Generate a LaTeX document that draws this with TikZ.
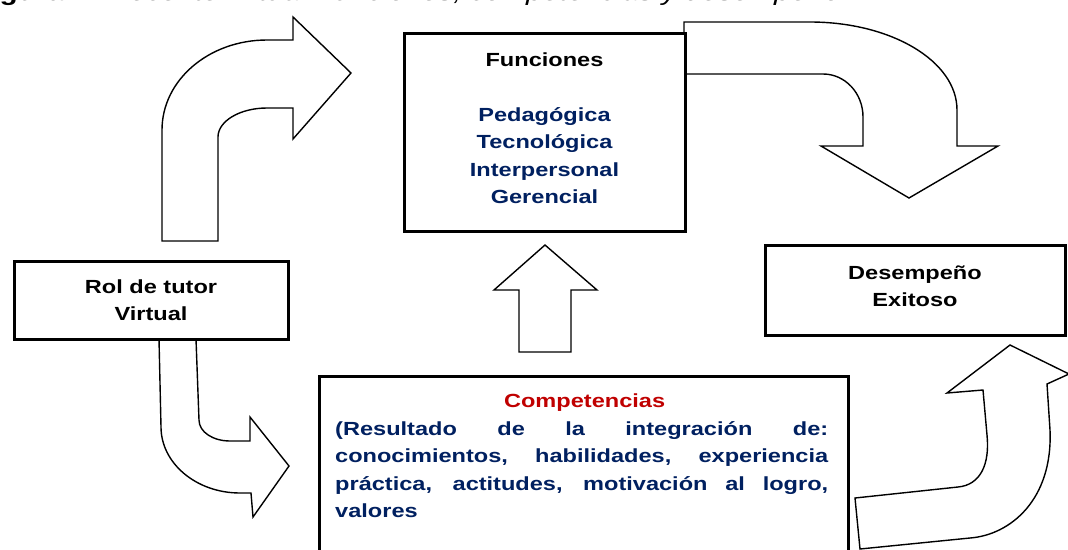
\documentclass[tikz,border=0pt]{standalone}
\usepackage{fontspec}
\setmainfont{Liberation Sans}[FakeStretch=1.24]
\definecolor{azul}{HTML}{002060}
\definecolor{rojo}{HTML}{C00000}

\begin{document}
\begin{tikzpicture}[x=1pt,y=-1pt,
    caja/.style={draw=black, line width=3pt, fill=white, align=center, inner sep=0pt},
    flecha/.style={draw=black, line width=1.4pt, fill=white, line join=miter},
    letra/.style={font=\fontsize{19}{27.5}\selectfont\bfseries}]

    \useasboundingbox (0,0) rectangle (1068,549);

    % titulo (cortado arriba)
    \node[anchor=base west, inner sep=0pt, font=\fontsize{24}{28}\selectfont] (fig) at (-27,0.8) {\textbf{Figura 1.} \textit{Docente virtual: funciones, competencias y desempeño}};

    % flechas
    \draw[flecha] (162,241) -- (162,130) .. controls (162,80) and (209,40) .. (267,40)
        -- (293,40) -- (293,17) -- (351,73) -- (293,139) -- (293,108) -- (267,108)
        .. controls (240,108) and (218,121) .. (218,137) -- (218,241) -- cycle;

    \draw[flecha] (684,22) -- (810,22) .. controls (891,22) and (957,61) .. (957,110)
        -- (957,146) -- (998,146) -- (909,198) -- (821,146) -- (863,146) -- (863,117)
        .. controls (863,93) and (845,74) .. (823,74) -- (684,74) -- cycle;

    \draw[flecha] (519,352) -- (519,290) -- (494,290) -- (545,245) -- (597,290)
        -- (571,290) -- (571,352) -- cycle;

    \draw[flecha] (159,339) -- (161,427) .. controls (161,463) and (196,493) .. (240,493)
        -- (251,493) -- (253,517) -- (289,466) -- (250,417) -- (250,441) -- (230,441)
        .. controls (213,441) and (199,432) .. (199,420) -- (196,339) -- cycle;

    \draw[flecha] (860,549) -- (855,498) -- (958,487) .. controls (980,485) and (990,465) .. (987,435)
        -- (983,390) -- (947,393) -- (1010,345) -- (1069,374) -- (1047,384) -- (1050,430)
        .. controls (1053,500) and (1010,535) .. (970,538) -- cycle;

    % cajas
    \node[caja, letra, minimum width=274pt, minimum height=78pt] (rol) at (151,300) {Rol de tutor\\Virtual};

    \node[caja, letra, text=azul, text depth=8pt, minimum width=281pt, minimum height=198pt] (fun) at (544.5,132)
        {\textcolor{black}{Funciones}\\[27.5pt]Pedagógica\\Tecnológica\\Interpersonal\\Gerencial};

    \node[caja, letra, text depth=8pt, minimum width=300pt, minimum height=90pt] (des) at (915,290) {Desempeño\\Exitoso};

    \node[caja, minimum width=529pt, minimum height=200pt, anchor=north] (comp) at (583.5,375) {};
    \node[letra, text=rojo, anchor=base, inner sep=0pt] (comptit) at (584.6,407.5) {Competencias};
    \node[letra, text=azul, anchor=north west, inner sep=0pt, text width=493pt, align=justify] (comptxt) at (335,421)
        {\hyphenpenalty=10000\tolerance=10000
        (Resultado de la integración de:\linebreak
        conocimientos, habilidades, experiencia\linebreak
        práctica, actitudes, motivación al logro,\linebreak
        valores};

\end{tikzpicture}
\end{document}
